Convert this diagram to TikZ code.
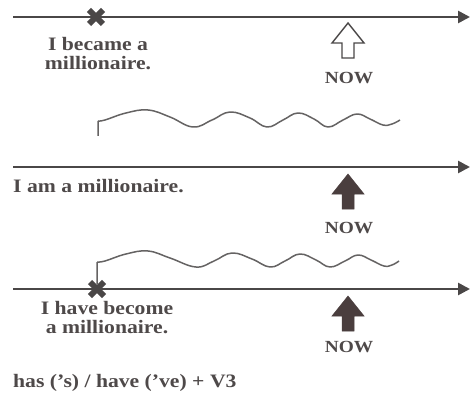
\documentclass[tikz,border=0pt]{standalone}
\usepackage{fontspec}
\setmainfont{Liberation Serif}[FakeStretch=1.14]
\usetikzlibrary{arrows.meta}
\definecolor{ink}{HTML}{4A4747}
\definecolor{txt}{HTML}{4E4949}
\definecolor{arr}{HTML}{4A3E3E}
\tikzset{
  timeline/.style={draw=ink, line width=2.6pt, -{Triangle[length=12pt,width=12pt]}},
  wave/.style={draw=ink!85, line width=1.5pt, line join=round},
  crossmark/.style={draw=ink, line width=6pt},
  lbl/.style={text=txt, font=\fontsize{19}{19}\selectfont\bfseries, inner sep=0pt, align=center},
  nowlbl/.style={text=txt, font=\fontsize{17}{17}\selectfont\bfseries, inner sep=0pt},
  openarrow/.style={draw=ink, line width=1.4pt, fill=white, line join=miter},
  fullarrow/.style={draw=arr, fill=arr, line width=0.5pt},
}
\newcommand\UpArr[3]{% x, top y, style
  \draw[#3] (#1,#2) -- ++(16,20) -- ++(-10,0) -- ++(0,15) -- ++(-12,0) -- ++(0,-15) -- ++(-10,0) -- cycle;}
\newcommand\Xmark[2]{%
  \draw[crossmark] (#1-7,#2-7) -- (#1+7,#2+7);
  \draw[crossmark] (#1-7,#2+7) -- (#1+7,#2-7);}
\begin{document}
\begin{tikzpicture}[x=1pt,y=-1pt]
\useasboundingbox (0,0) rectangle (470,403);
% line 1
\coordinate (s1) at (13,17);
\coordinate (e1) at (470,17);
\draw[timeline] (s1) -- (e1);
\Xmark{96}{17}
\node[lbl] (t1) at (98,54) {I became a\\millionaire.};
\UpArr{348}{23}{openarrow}
\node[nowlbl] (n1) at (349,78) {NOW};
% wave 1
\coordinate (w1a) at (98,136);
\coordinate (w1b) at (98,121);
\draw[wave] (w1a) -- (w1b) plot[smooth, tension=0.7] coordinates {(98,121) (105,120) (126,113) (148,110) (170,117) (193,127) (212,120) (230,112) (250,118) (267,127) (283,120) (298,113) (314,119) (328,127) (343,120) (357,114) (370,119) (383,125) (392,124) (400,120)};
% line 2
\coordinate (s2) at (13,167);
\coordinate (e2) at (470,167);
\draw[timeline] (s2) -- (e2);
\node[lbl, anchor=west] (t2) at (13,186) {I am a millionaire.};
\UpArr{348}{174}{fullarrow}
\node[nowlbl] (n2) at (349,228) {NOW};
% wave 2
\coordinate (w2a) at (97,284);
\coordinate (w2b) at (97,262);
\draw[wave] (w2a) -- (w2b) plot[smooth, tension=0.7] coordinates {(97,262) (105,261) (126,254) (148,251) (170,258) (196,267) (214,261) (232,253) (252,259) (270,267) (285,261) (300,254) (316,260) (330,267) (345,261) (358,255) (371,260) (384,266) (392,265) (399,261)};
% line 3
\coordinate (s3) at (13,289);
\coordinate (e3) at (470,289);
\draw[timeline] (s3) -- (e3);
\Xmark{97}{289}
\node[lbl] (t3) at (107,318) {I have become\\a millionaire.};
\UpArr{348}{296}{fullarrow}
\node[nowlbl] (n3) at (349,347) {NOW};
\node[lbl, anchor=west] (f) at (13,383) {has (’s) / have (’ve) + V3};
\end{tikzpicture}
\end{document}
